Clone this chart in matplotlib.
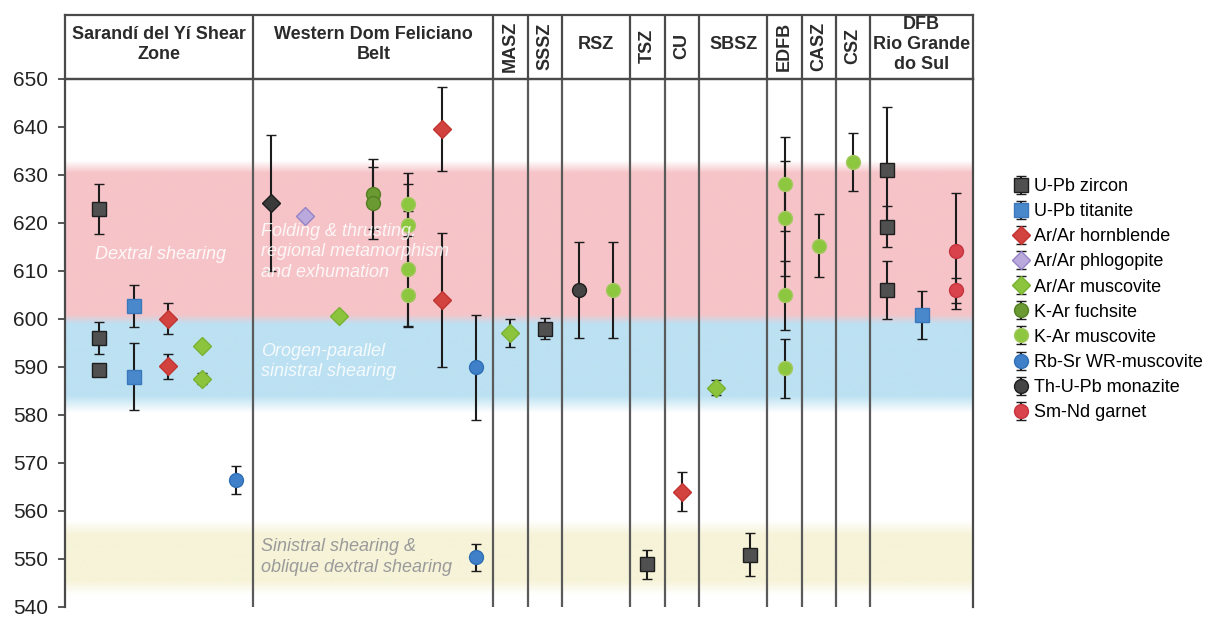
import numpy as np
import matplotlib
matplotlib.use("Agg")
import matplotlib.pyplot as plt

plt.rcParams['font.family'] = ['Liberation Sans', 'DejaVu Sans']

# ---------------------------------------------------------------- zones
zone_labels = ["Sarandí del Yí Shear\nZone", "Western Dom Feliciano\nBelt",
               "MASZ", "SSSZ", "RSZ", "TSZ", "CU", "SBSZ", "EDFB", "CASZ",
               "CSZ", "DFB\nRio Grande\ndo Sul"]
zone_slots = [5, 7, 1, 1, 2, 1, 1, 2, 1, 1, 1, 3]
zone_vertical = [False, False, True, True, False, True, True, False,
                 True, True, True, False]

age_ticks = list(range(540, 651, 10))

# ---------------------------------------------------------------- ages (Ma) with 2-sigma errors
# zone: index into zone_labels, slot: column inside the zone
upb_zircon = {"zone": [0, 0, 0, 3, 5, 7, 11, 11, 11],
              "slot": [0, 0, 0, 0, 0, 1, 0, 0, 0],
              "age": [623.0, 596.0, 589.3, 598.0, 548.9, 550.9, 631.0, 619.2, 606.0],
              "err": [5.2, 3.3, 0.8, 2.2, 3.0, 4.5, 13.1, 4.3, 6.0]}
upb_titanite = {"zone": [0, 0, 11], "slot": [1, 1, 1],
                "age": [602.7, 588.0, 600.9], "err": [4.3, 7.0, 5.0]}
arar_hornblende = {"zone": [0, 0, 1, 1, 6], "slot": [2, 2, 5, 5, 0],
                   "age": [600.1, 590.2, 639.6, 603.9, 564.0],
                   "err": [3.3, 2.6, 8.7, 14.0, 4.1]}
arar_phlogopite = {"zone": [1], "slot": [1], "age": [621.5], "err": [0.0]}
arar_muscovite = {"zone": [0, 0, 1, 2, 7], "slot": [3, 3, 2, 0, 0],
                  "age": [594.4, 587.6, 600.6, 597.1, 585.7],
                  "err": [0.0, 1.2, 0.9, 3.0, 1.6]}
kar_fuchsite = {"zone": [1, 1], "slot": [3, 3],
                "age": [626.1, 624.2], "err": [7.3, 7.5]}
kar_muscovite = {"zone": [1, 1, 1, 1, 4, 8, 8, 8, 8, 9, 10],
                 "slot": [4, 4, 4, 4, 1, 0, 0, 0, 0, 0, 0],
                 "age": [623.9, 619.6, 610.4, 604.9, 606.0, 628.2, 621.0,
                         604.9, 589.7, 615.3, 632.7],
                 "err": [6.6, 8.6, 12.0, 6.3, 10.0, 9.8, 12.0, 7.2, 6.2, 6.6, 6.1]}
rbsr_muscovite = {"zone": [0, 1, 1], "slot": [4, 6, 6],
                  "age": [566.4, 589.9, 550.4], "err": [2.9, 11.0, 2.8]}
thupb_monazite = {"zone": [4], "slot": [0], "age": [606.0], "err": [10.0]}
smnd_garnet = {"zone": [11, 11], "slot": [2, 2],
               "age": [614.1, 606.0], "err": [12.1, 2.6]}
wdfb_diamond = {"zone": [1], "slot": [0], "age": [624.1], "err": [14.2]}

series = [
    ("U-Pb zircon", upb_zircon, "s", 10.5, "#505050", "#1e1e1e"),
    ("U-Pb titanite", upb_titanite, "s", 10.5, "#4a88cc", "#3b78bb"),
    ("Ar/Ar hornblende", arar_hornblende, "D", 9.5, "#d2423f", "#c23431"),
    ("Ar/Ar phlogopite", arar_phlogopite, "D", 9.5, "#b9a9dc", "#9583c6"),
    ("Ar/Ar muscovite", arar_muscovite, "D", 9.5, "#8cc43e", "#79b232"),
    ("K-Ar fuchsite", kar_fuchsite, "o", 10, "#6b9a32", "#557f24"),
    ("K-Ar muscovite", kar_muscovite, "o", 10, "#8dc63f", "#a4c860"),
    ("Rb-Sr WR-muscovite", rbsr_muscovite, "o", 10, "#3f80c9", "#2f6fb6"),
    ("Th-U-Pb monazite", thupb_monazite, "o", 10, "#444444", "#1e1e1e"),
    ("Sm-Nd garnet", smnd_garnet, "o", 10, "#d8434c", "#c5353e"),
]

# ---------------------------------------------------------------- layout
starts = 0.5 + np.concatenate([[0], np.cumsum(zone_slots)[:-1]])
ends = starts + np.array(zone_slots)
x_max = ends[-1]


def xpos(s):
    return starts[np.array(s["zone"])] + np.array(s["slot"]) + 0.5


W, H = 1215, 619
fig = plt.figure(figsize=(W / 100, H / 100), dpi=100)
ax = fig.add_axes([65 / W, 1 - 607 / H, 908 / W, (607 - 79) / H])
hx = fig.add_axes([65 / W, 1 - 79 / H, 908 / W, (79 - 15) / H])

line_col = "#4a4a4a"

# ---------------------------------------------------------------- shaded event bands
v = np.linspace(540, 650, 800)
pink_a = np.interp(v, [599, 601, 630.5, 633], [0, 1, 1, 0])
blue_a = np.interp(v, [580.5, 584, 599, 601], [0, 1, 1, 0])
yellow_a = np.interp(v, [542.5, 545.5, 555, 558], [0, 1, 1, 0])
pink = np.array([246, 196, 200]) / 255
blue = np.array([188, 225, 242]) / 255
yellow = np.array([246, 243, 216]) / 255
white = np.ones(3)
rest = np.clip(1 - pink_a - blue_a - yellow_a, 0, 1)
img = (rest[:, None] * white + pink_a[:, None] * pink
       + blue_a[:, None] * blue + yellow_a[:, None] * yellow)
ax.imshow(img[:, None, :], extent=[0, x_max, 540, 650], origin="lower",
          aspect="auto", zorder=0, interpolation="bilinear")

band_font = dict(fontsize=13, style="italic", ha="left", va="center",
                 zorder=5, linespacing=1.25)
ax.text(0.88, 613.4, "Dextral shearing", color="white", alpha=0.9, **band_font)
ax.text(5.72, 614.0, "Folding & thrusting,\nregional metamorphism\nand exhumation",
        color="white", alpha=0.85, **band_font)
ax.text(5.72, 591.2, "Orogen-parallel\nsinistral shearing",
        color="white", alpha=0.85, **band_font)
ax.text(5.72, 550.4, "Sinistral shearing &\noblique dextral shearing",
        color="#9a9a9a", **band_font)

# ---------------------------------------------------------------- zone separators
ax.vlines(ends[:-1], 540, 650, color="#5a5a5a", lw=1.6, zorder=1.5)
hx.vlines(ends[:-1], 0, 1, color=line_col, lw=1.6)

# ---------------------------------------------------------------- data
eb_kw = dict(ecolor="#1c1c1c", elinewidth=1.5, capsize=3.5, capthick=1.5,
             linestyle="none", zorder=3)
handles = []
for name, s, mk, ms, fc, ec in series:
    h = ax.errorbar(xpos(s), s["age"], yerr=s["err"], fmt=mk, ms=ms,
                    mfc=fc, mec=ec, mew=1.0, label=name, **eb_kw)
    handles.append(h)
ax.errorbar(xpos(wdfb_diamond), wdfb_diamond["age"], yerr=wdfb_diamond["err"],
            fmt="D", ms=9.5, mfc="#3a3a3a", mec="#1e1e1e", mew=1.0,
            label="_nolegend_", **eb_kw)

# ---------------------------------------------------------------- axes styling
ax.set_xlim(0, x_max)
ax.set_ylim(540, 650)
ax.set_xticks([])
ax.set_yticks(age_ticks)
ax.tick_params(axis="y", length=5, width=1.3, pad=7, labelsize=15,
               color=line_col, labelcolor="#222222")
for side in ("left", "right", "top"):
    ax.spines[side].set_color(line_col)
    ax.spines[side].set_linewidth(1.6)
ax.spines["bottom"].set_visible(False)

hx.set_xlim(0, x_max)
hx.set_ylim(0, 1)
hx.set_xticks([])
hx.set_yticks([])
for side in hx.spines:
    hx.spines[side].set_color(line_col)
    hx.spines[side].set_linewidth(1.6)
hx.patch.set_alpha(0)

centers = (starts + ends) / 2
centers[0] = (0 + ends[0]) / 2
for c, lab, vert in zip(centers, zone_labels, zone_vertical):
    hx.text(c, 0.51 if vert else 0.54, lab, rotation=90 if vert else 0,
            ha="center", va="center", fontsize=13, fontweight="bold",
            color="#2b2b2b", linespacing=1.2, multialignment="center")

# ---------------------------------------------------------------- legend
fig.legend(handles=handles, labels=[s[0] for s in series], loc="upper left",
           bbox_to_anchor=(1015 / W, 1 - 178 / H), frameon=False, fontsize=13,
           handlelength=0.7, handletextpad=0.35, labelspacing=0.45,
           borderpad=0, borderaxespad=0)

fig.savefig("out.png", dpi=100)
